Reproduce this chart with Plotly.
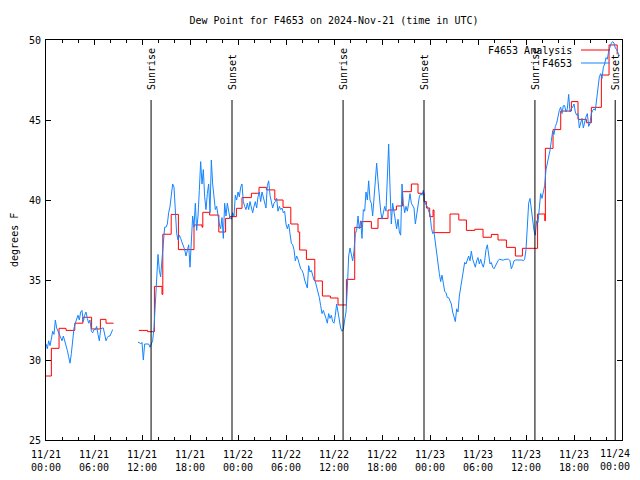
import pandas as pd
import plotly.graph_objects as go

START = pd.Timestamp("2024-11-21 00:00")
STEP_MINUTES = 10
N = None

# F4653 observations, 10-minute samples (degrees F), one row per hour
obs_nov21 = [
    31.0, 30.7, 31.2, 30.9, 31.3, 31.8,
    31.6, 32.5, 32.0, 31.8, 31.7, 31.4,
    31.2, 31.5, 31.2, 31.0, 30.6, 30.2,
    29.8, 30.4, 31.4, 32.0, 32.3, 32.6,
    32.8, 32.5, 33.0, 33.1, 32.4, 32.8,
    33.0, 32.6, 32.3, 32.5, 31.8, 31.7,
    31.9, 31.9, 32.1, 31.6, 31.2, 31.9,
    32.0, 32.0, 31.6, 31.2, 31.4, 31.5,
    31.5, 31.7, 31.9, N, N, N,
    N, N, N, N, N, N,
    N, N, N, N, N, N,
    N, N, N, 31.1, 31.1, 31.0,
    31.1, 30.0, 31.0, 31.0, 31.0, 31.0,
    30.8, 31.0, 31.2, 32.0, 33.6, 35.5,
    36.6, 35.6, 35.2, 36.3, 37.5, 38.3,
    38.3, 38.5, 39.2, 39.6, 40.3, 41.0,
    40.8, 39.2, 37.9, 37.5, 37.8, 37.6,
    37.4, 37.1, 36.9, 36.5, 36.9, 37.2,
    35.8, 37.9, 39.0, 38.3, 39.8, 38.1,
    39.0, 40.6, 42.4, 41.0, 41.9, 40.2,
    39.4, 40.4, 41.0, 39.2, 42.5, 41.0,
    40.0, 39.4, 39.6, 39.0, 38.5, 38.2,
    38.9, 37.6, 39.8, 39.0, 39.8, 39.3,
    38.9, 38.8, 39.2, 39.0, 40.3, 40.0,
]
obs_nov22 = [
    40.5, 40.2, 40.8, 41.0, 39.9, 39.6,
    39.4, 39.8, 39.4, 39.9, 39.6, 39.2,
    39.6, 39.9, 39.5, 40.2, 40.5, 39.9,
    40.5, 40.2, 39.8, 39.5, 40.9, 41.2,
    40.3, 39.8, 39.5, 39.8, 39.9, 40.1,
    39.3, 39.6, 39.4, 39.5, 39.2, 39.3,
    38.5, 38.2, 38.5, 37.9, 37.3, 37.2,
    36.9, 36.2, 36.5, 36.3, 35.9, 35.7,
    35.6, 35.4, 35.0, 34.8, 34.5, 35.9,
    35.5, 35.6, 35.2, 35.0, 34.9, 34.6,
    34.2, 33.9, 33.4, 32.9, 33.1, 32.9,
    32.6, 32.3, 32.9, 32.6, 32.8, 32.4,
    32.3, 32.8, 33.5, 33.0, 32.4, 32.0,
    31.8, 31.9, 32.5, 33.0, 34.5, 36.5,
    37.0, 36.5, 36.2, 36.8, 37.9, 38.1,
    39.0, 38.2, 38.7, 37.6, 39.4, 39.3,
    40.5, 40.0, 41.2, 40.0, 39.8, 39.0,
    40.2, 41.7, 42.3, 41.2, 40.0, 39.3,
    38.8, 39.2, 39.6, 39.3, 41.5, 43.5,
    40.8, 38.5, 39.8, 39.2, 38.5, 38.2,
    38.8, 38.0, 37.8, 41.0, 39.8, 39.2,
    39.6, 39.3, 39.8, 40.4, 39.8, 39.6,
    39.5, 38.5, 39.0, 39.6, 40.2, 40.4,
    40.3, 40.6, 39.9, 39.7, 39.6, 39.3,
]
obs_nov23 = [
    39.1, 38.3, 37.9, 38.0, 37.3, 36.8,
    36.2, 35.4, 34.9, 35.3, 34.8, 34.3,
    34.2, 33.9, 33.9, 33.7, 33.5, 33.0,
    32.7, 32.4, 33.2, 33.0, 34.0, 34.6,
    35.2, 35.8, 36.1, 36.0, 36.3, 36.5,
    36.2, 36.8, 36.3, 36.0, 35.8, 36.2,
    36.4, 36.0, 36.3, 36.0, 35.8, 36.2,
    36.9, 37.2, 36.7, 36.0, 36.1, 35.8,
    35.7, 35.9, 36.0, 36.2, 36.3, 36.25,
    36.25, 36.25, 36.3, 36.3, 36.3, 36.3,
    36.2, 35.7, 35.9, 36.2, 36.25, 36.25,
    36.25, 36.25, 36.25, 36.25, 36.2, 36.3,
    36.9, 38.5, 39.8, 40.1, 39.3, 38.6,
    38.1, 37.8, 38.7, 38.6, 39.8, 40.4,
    40.1, 40.5, 40.9, 41.9, 42.3, 42.6,
    43.1, 43.7, 44.3, 44.1, 44.6, 44.8,
    45.3, 45.6, 45.8, 45.4, 45.9, 45.9,
    45.5, 45.7, 46.6, 45.5, 45.7, 45.8,
    46.0, 45.5, 45.3, 45.4, 44.5, 44.8,
    45.1, 44.5, 44.9, 45.2, 45.4, 44.6,
    44.8, 45.4, 45.6, 45.7, 45.6, 46.2,
    46.9, 47.7, 47.9, 47.6, 48.3, 48.5,
    48.9, 48.8, 49.3, 49.6, 49.8, 49.9,
    49.8, 49.5, 49.4, 49.2, 49.0,
]

# F4653 Analysis: step values, hours after start
analysis_hours = [0.0, 0.67, 1.63, 2.5, 3.6, 4.6, 5.7, 6.8, 7.5, 8.45, 8.5,
                  11.6, 12.7, 13.55, 14.5, 14.6, 15.65, 16.55, 18.5, 19.5, 19.6,
                  20.45, 21.6, 22.45, 22.96, 23.8, 24.5, 25.67, 26.63, 27.55, 28.6,
                  29.63, 30.6, 31.5, 31.71, 32.55, 33.6, 34.55, 35.55, 36.5, 37.55,
                  38.59, 39.42, 40.67, 41.5, 42.75, 43.8, 44.55, 45.67, 46.5, 47.25,
                  47.55, 47.96, 48.38, 48.5, 50.5, 51.6, 52.55, 53.6, 54.63, 55.67,
                  56.5, 57.55, 58.67, 59.55, 61.45, 62.35, 62.42, 63.38, 64.34, 65.67,
                  66.5, 67.55, 68.17, 69.42, 70.38, 71.4]
analysis_values = [29.0, 30.73, 31.98, 31.85, 32.3, 32.67, 31.94, 32.54, 32.3, 32.3, None,
                   31.85, 31.77, 34.6, 34.1, 37.86, 39.1, 36.9, 38.44, 38.3, 39.23,
                   39.06, 38.0, 38.85, 38.96, 39.48, 40.15, 40.42, 40.79, 40.63, 40.0,
                   39.54, 38.5, 38.0, 36.875, 36.29, 34.94, 34.0, 33.875, 33.44, 35.04,
                   38.29, 38.65, 38.23, 38.85, 39.375, 39.625, 40.52, 41.0, 40.42, 39.9,
                   39.5, 38.96, 39.375, 37.96, 39.125, 38.75, 38.1, 38.17, 37.67, 37.85,
                   37.5, 37.04, 36.5, 36.98, 39.125, 38.7, 43.23, 44.4, 45.56, 46.15,
                   45.04, 44.83, 45.79, 47.81, 49.69, 49.1]

sunrise_times = ["2024-11-21 13:08", "2024-11-22 13:08", "2024-11-23 13:07"]
sunset_times = ["2024-11-21 23:15", "2024-11-22 23:15", "2024-11-23 23:09"]

y_ticks = [25, 30, 35, 40, 45, 50]
x_tick_labels = ["11/21<br>00:00", "11/21<br>06:00", "11/21<br>12:00", "11/21<br>18:00",
                 "11/22<br>00:00", "11/22<br>06:00", "11/22<br>12:00", "11/22<br>18:00",
                 "11/23<br>00:00", "11/23<br>06:00", "11/23<br>12:00", "11/23<br>18:00",
                 "11/24<br>00:00"]

FONT = "DejaVu Sans Mono"

obs_values = obs_nov21 + obs_nov22 + obs_nov23
obs_times = [START + pd.Timedelta(minutes=STEP_MINUTES * i) for i in range(len(obs_values))]
analysis_times = [START + pd.Timedelta(hours=h) for h in analysis_hours]
x_tick_vals = [START + pd.Timedelta(hours=6 * i) for i in range(len(x_tick_labels))]
END = START + pd.Timedelta(hours=72)

fig = go.Figure()
fig.add_trace(go.Scatter(x=analysis_times, y=analysis_values, mode="lines",
                         line=dict(color="#ff0000", width=1, shape="hv"),
                         connectgaps=False, name="F4653 Analysis", showlegend=False))
fig.add_trace(go.Scatter(x=obs_times, y=obs_values, mode="lines",
                         line=dict(color="#1584ff", width=1),
                         connectgaps=False, name="F4653", showlegend=False))

LINE_TOP = 46.25
for label, times in (("Sunrise", sunrise_times), ("Sunset", sunset_times)):
    for t in times:
        ts = pd.Timestamp(t)
        fig.add_shape(type="line", xref="x", yref="y", x0=ts, x1=ts, y0=25, y1=LINE_TOP,
                      line=dict(color="black", width=1))
        fig.add_annotation(x=ts, y=46.75, xref="x", yref="y", text=label, textangle=-90,
                           showarrow=False, xanchor="center", yanchor="bottom",
                           font=dict(family=FONT, size=10, color="black"))

# legend (gnuplot style: text then line sample)
legend_items = [("F4653 Analysis", "#ff0000", 0.975), ("F4653", "#1584ff", 0.9425)]
for text, color, yp in legend_items:
    fig.add_annotation(x=0.9167, y=yp, xref="paper", yref="paper", text=text,
                       showarrow=False, xanchor="right", yanchor="middle",
                       font=dict(family=FONT, size=10, color="black"))
    fig.add_shape(type="line", xref="paper", yref="paper", x0=0.9288, x1=0.979,
                  y0=yp, y1=yp, line=dict(color=color, width=1))

fig.add_annotation(x=-0.0556, y=0.5, xref="paper", yref="paper", text="degrees F",
                   textangle=-90, showarrow=False, xanchor="center", yanchor="middle",
                   font=dict(family=FONT, size=10, color="black"))

# the last tick label would run past the page edge: draw it as a label kept
# just inside the right edge, under its tick
axis_text = list(x_tick_labels)
last_label = axis_text[-1]
axis_text[-1] = ""
fig.add_annotation(x=1.0155, y=-0.017, xref="paper", yref="paper", text=last_label,
                   showarrow=False, xanchor="right", yanchor="top", align="center",
                   borderpad=0, font=dict(family=FONT, size=10, color="black"))

# the page body adds an 8px margin around the figure, so the figure is
# sized so that the whole page is exactly 640x480
fig.update_layout(
    width=624, height=464,
    margin=dict(l=38, r=10, t=32, b=32, autoexpand=False),
    paper_bgcolor="white", plot_bgcolor="white",
    font=dict(family=FONT, size=10, color="black"),
    title=dict(text="Dew Point for F4653 on 2024-Nov-21 (time in UTC)",
               x=0.5, xref="paper", xanchor="center",
               y=1 - 12 / 464, yref="container", yanchor="middle",
               font=dict(family=FONT, size=10, color="black")),
    showlegend=False,
)
fig.update_xaxes(type="date", range=[START, END], tickmode="array",
                 tickvals=x_tick_vals, ticktext=axis_text,
                 ticks="inside", ticklen=5, tickcolor="black", tickwidth=1,
                 ticklabelstandoff=5, ticklabeloverflow="allow", automargin=False,
                 showline=True, linecolor="black", linewidth=1, mirror="allticks",
                 showgrid=False, zeroline=False,
                 minor=dict(ticks="inside", ticklen=3, tickcolor="black",
                            dtick=2 * 3600 * 1000, tick0=START, showgrid=False))
fig.update_yaxes(range=[25, 50], tickmode="array", tickvals=y_ticks,
                 ticks="inside", ticklen=5, tickcolor="black", tickwidth=1,
                 ticklabelstandoff=2, automargin=False,
                 showline=True, linecolor="black", linewidth=1, mirror="allticks",
                 showgrid=False, zeroline=False)

fig.write_html("out.html")
